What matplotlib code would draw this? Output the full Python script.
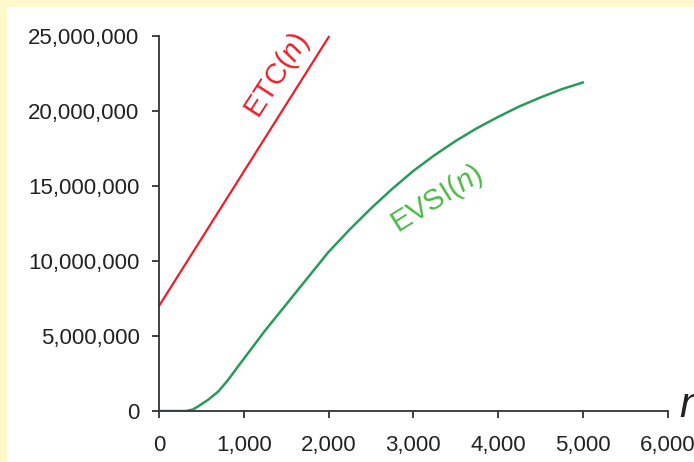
import matplotlib
matplotlib.use("Agg")
import matplotlib.pyplot as plt
from matplotlib.patches import Rectangle
from matplotlib.ticker import FuncFormatter

plt.rcParams['font.family'] = ['Liberation Sans', 'DejaVu Sans']
plt.rcParams['mathtext.fontset'] = 'custom'
plt.rcParams['mathtext.rm'] = 'Liberation Sans'
plt.rcParams['mathtext.it'] = 'Liberation Sans:italic'

# Data
etc_n = [0, 2010]
etc_values = [7_000_000, 25_000_000]

evsi_n = [0, 320, 400, 460, 580, 700, 815, 930, 1050, 1250, 1500, 1750, 2000, 2250,
          2500, 2750, 3000, 3250, 3500, 3750, 4000, 4250, 4500, 4750, 5000]
evsi_values = [0, 0, 0.1e6, 0.3e6, 0.75e6, 1.3e6, 2.07e6, 2.95e6, 3.85e6, 5.35e6, 7.1e6,
               8.85e6, 10.6e6, 12.1e6, 13.5e6, 14.8e6, 16.0e6, 17.05e6, 18.0e6, 18.85e6,
               19.6e6, 20.3e6, 20.9e6, 21.45e6, 21.9e6]

x_ticks = [0, 1000, 2000, 3000, 4000, 5000, 6000]
y_ticks = [0, 5_000_000, 10_000_000, 15_000_000, 20_000_000, 25_000_000]

fig = plt.figure(figsize=(6.94, 4.62), dpi=100)
fig.patch.set_facecolor('#FEF9CB')
fig.patches.append(Rectangle((7 / 694, 0), 1, 1 - 7 / 462, transform=fig.transFigure,
                             facecolor='white', edgecolor='none', zorder=-10))

ax = fig.add_axes([159 / 694, 51 / 462, (667.5 - 159) / 694, (411 - 36) / 462])
ax.set_facecolor('none')

ax.plot(etc_n, etc_values, color='#E8202A', lw=1.6, solid_capstyle='butt', clip_on=False)
ax.plot(evsi_n, evsi_values, color='#2A9A5C', lw=1.8)

ax.set_xlim(0, 6000)
ax.set_ylim(0, 25_000_000)
ax.set_xticks(x_ticks)
ax.set_yticks(y_ticks)
fmt = FuncFormatter(lambda v, p: f"{int(v):,}")
ax.xaxis.set_major_formatter(fmt)
ax.yaxis.set_major_formatter(fmt)

for s in ['top', 'right']:
    ax.spines[s].set_visible(False)
for s in ['left', 'bottom']:
    ax.spines[s].set_color('#333333')
    ax.spines[s].set_linewidth(1.3)

ax.tick_params(axis='both', direction='out', length=5, width=1.3, color='#333333',
               labelsize=16, labelcolor='#222222')
ax.tick_params(axis='x', pad=12)
ax.tick_params(axis='y', pad=9)

ax.text(1392, 22_350_000, r'ETC($\mathit{n}$)', color='#E8202A', fontsize=21,
        rotation=57, ha='center', va='center', rotation_mode='anchor')
ax.text(3282, 14_100_000, r'EVSI($\mathit{n}$)', color='#4DB848', fontsize=21,
        rotation=32, ha='center', va='center', rotation_mode='anchor')

fig.text(679 / 694, 1 - 417 / 462, 'n', fontsize=30, style='italic', color='#222222',
         ha='left', va='baseline')

fig.savefig('out.png', dpi=100, facecolor=fig.get_facecolor())
